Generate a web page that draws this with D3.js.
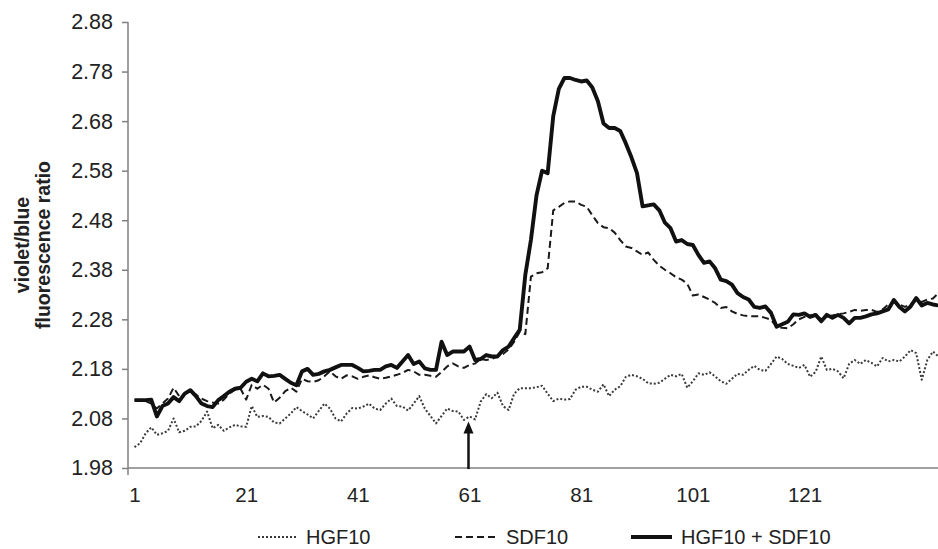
<!DOCTYPE html>
<html><head><meta charset="utf-8">
<script src="https://cdn.jsdelivr.net/npm/d3@7"></script>
<style>
html,body{margin:0;padding:0;background:#fff;}
svg{display:block;font-family:"Liberation Sans",Arial,sans-serif;}
</style></head>
<body>
<svg id="chart" width="938" height="549"></svg>
<script>
// ---- data ----
const hgf10 = [2.022,2.03,2.05,2.062,2.047,2.05,2.055,2.08,2.052,2.055,2.063,2.064,2.075,2.094,2.06,2.067,2.055,2.062,2.067,2.064,
2.063,2.105,2.083,2.085,2.083,2.072,2.07,2.08,2.09,2.103,2.095,2.088,2.08,2.095,2.11,2.1,2.08,2.074,2.09,2.101,
2.1,2.104,2.11,2.1,2.097,2.11,2.12,2.105,2.104,2.096,2.11,2.125,2.10,2.085,2.07,2.085,2.10,2.095,2.094,2.077,
2.084,2.078,2.114,2.129,2.121,2.132,2.105,2.097,2.13,2.141,2.141,2.141,2.143,2.146,2.13,2.115,2.12,2.118,2.119,2.138,
2.144,2.144,2.138,2.134,2.149,2.125,2.138,2.145,2.164,2.168,2.165,2.16,2.151,2.15,2.152,2.16,2.168,2.165,2.17,2.142,
2.155,2.171,2.168,2.173,2.165,2.155,2.15,2.16,2.17,2.168,2.178,2.186,2.178,2.176,2.19,2.205,2.2,2.19,2.186,2.182,
2.188,2.164,2.174,2.205,2.178,2.18,2.175,2.161,2.19,2.198,2.19,2.198,2.192,2.185,2.202,2.195,2.198,2.195,2.205,2.218,
2.212,2.158,2.198,2.215,2.205];
const sdf10 = [2.117,2.117,2.115,2.11,2.1,2.11,2.12,2.142,2.125,2.13,2.135,2.128,2.12,2.115,2.112,2.11,2.118,2.13,2.138,2.14,
2.118,2.148,2.14,2.148,2.14,2.112,2.122,2.135,2.142,2.134,2.16,2.155,2.154,2.157,2.165,2.175,2.165,2.16,2.167,2.165,
2.16,2.164,2.167,2.163,2.16,2.162,2.165,2.168,2.172,2.178,2.175,2.168,2.168,2.166,2.164,2.174,2.185,2.191,2.185,2.182,
2.188,2.191,2.2,2.198,2.2,2.205,2.21,2.219,2.235,2.255,2.25,2.366,2.373,2.375,2.383,2.50,2.507,2.515,2.518,2.518,
2.511,2.507,2.49,2.474,2.466,2.464,2.455,2.44,2.427,2.424,2.417,2.41,2.415,2.40,2.388,2.38,2.373,2.365,2.36,2.352,
2.328,2.33,2.325,2.32,2.313,2.303,2.305,2.296,2.291,2.288,2.286,2.286,2.286,2.283,2.279,2.265,2.263,2.262,2.27,2.28,
2.285,2.288,2.29,2.28,2.285,2.288,2.29,2.292,2.295,2.299,2.297,2.299,2.299,2.295,2.3,2.31,2.315,2.31,2.305,2.31,
2.318,2.315,2.32,2.322,2.333];
const hgfSdf = [2.117,2.117,2.117,2.118,2.084,2.105,2.11,2.123,2.115,2.13,2.137,2.125,2.11,2.105,2.103,2.117,2.125,2.134,2.14,2.142,
2.154,2.16,2.155,2.171,2.165,2.166,2.168,2.16,2.152,2.147,2.175,2.18,2.168,2.17,2.175,2.178,2.183,2.188,2.188,2.188,
2.182,2.175,2.176,2.178,2.178,2.185,2.188,2.182,2.195,2.208,2.19,2.195,2.181,2.178,2.178,2.235,2.208,2.215,2.215,2.215,
2.225,2.198,2.2,2.208,2.205,2.205,2.218,2.225,2.242,2.259,2.37,2.44,2.53,2.58,2.575,2.69,2.745,2.767,2.767,2.763,
2.76,2.762,2.748,2.72,2.675,2.666,2.666,2.66,2.635,2.607,2.575,2.508,2.51,2.512,2.5,2.475,2.464,2.437,2.44,2.432,
2.43,2.41,2.394,2.397,2.383,2.36,2.357,2.35,2.333,2.325,2.32,2.305,2.303,2.306,2.293,2.265,2.27,2.275,2.29,2.289,
2.292,2.285,2.289,2.276,2.289,2.283,2.289,2.283,2.272,2.283,2.283,2.286,2.29,2.292,2.296,2.3,2.319,2.305,2.296,2.306,
2.323,2.308,2.313,2.31,2.308];
const xTickLabels = [1,21,41,61,81,101,121];
const yTickLabels = [1.98,2.08,2.18,2.28,2.38,2.48,2.58,2.68,2.78,2.88];
const seriesNames = ["HGF10","SDF10","HGF10 + SDF10"];
const yTitle = ["violet/blue","fluorescence ratio"];
const arrowAt = 61;

// ---- layout ----
const svg = d3.select("#chart");
const plotLeft = 128, plotRight = 938, plotTop = 22, plotBottom = 468;
const x = d3.scaleLinear().domain([1,121]).range([134.5,804.5]);
const y = d3.scaleLinear().domain([1.98,2.88]).range([plotBottom,plotTop]);

const defs = svg.append("defs");
defs.append("clipPath").attr("id","clip").append("rect")
  .attr("x",plotLeft).attr("y",0).attr("width",plotRight-plotLeft).attr("height",plotBottom);

// y axis
const yAxis = svg.append("g").attr("transform",`translate(${plotLeft},0)`)
  .call(d3.axisLeft(y).tickValues(yTickLabels).tickFormat(d3.format(".2f")).tickSize(6).tickPadding(9));
yAxis.select(".domain").attr("stroke","#808080").attr("stroke-width",1.5).attr("d",`M0,${plotTop}V${plotBottom+7}`);
yAxis.selectAll(".tick line").attr("stroke","#808080").attr("stroke-width",1.5);
yAxis.selectAll(".tick text").attr("font-size",21.5).attr("fill","#222").attr("font-family","Liberation Sans, Arial, sans-serif");

// x axis
const xAxis = svg.append("g").attr("transform",`translate(0,${plotBottom})`)
  .call(d3.axisBottom(x).tickValues(xTickLabels).tickFormat(d3.format("d")).tickSize(0).tickPadding(19));
xAxis.select(".domain").attr("stroke","#808080").attr("stroke-width",1.5).attr("d",`M${plotLeft},0H${plotRight}`);
xAxis.selectAll(".tick text").attr("font-size",20.5).attr("fill","#222").attr("font-family","Liberation Sans, Arial, sans-serif");

// y title
const yt = svg.append("text").attr("transform","translate(29,245) rotate(-90)")
  .attr("text-anchor","middle").attr("font-weight","bold").attr("font-size",19.5).attr("fill","#222");
yt.append("tspan").attr("x",0).attr("dy",0).text(yTitle[0]);
yt.append("tspan").attr("x",0).attr("dy",21).text(yTitle[1]);

// lines
const line = d3.line().x((d,i)=>x(i+1)).y(d=>y(d));
const g = svg.append("g").attr("clip-path","url(#clip)");
const styles = [
  {data:hgf10, w:2, dash:"2,2", color:"#3a3a3a"},
  {data:sdf10, w:2, dash:"7,4", color:"#1a1a1a"},
  {data:hgfSdf, w:3.9, dash:null, color:"#111"}
];
styles.forEach(s=>{
  g.append("path").datum(s.data).attr("d",line).attr("fill","none")
   .attr("stroke",s.color).attr("stroke-width",s.w).attr("stroke-linejoin","round")
   .attr("stroke-dasharray",s.dash);
});

// arrow
const ax = x(arrowAt) - 1;
svg.append("line").attr("x1",ax).attr("x2",ax).attr("y1",y(2.0)+11).attr("y2",y(2.07)+2)
  .attr("stroke","#111").attr("stroke-width",2.5);
svg.append("path").attr("d",`M${ax},${y(2.074)}L${ax-5},${y(2.074)+12}L${ax+5},${y(2.074)+12}Z`).attr("fill","#111");

// legend
const legY = 537;
const legItems = [
  {x0:258,x1:297,tx:306},
  {x0:455,x1:497,tx:506},
  {x0:631,x1:672,tx:681}
];
legItems.forEach((l,i)=>{
  const s = styles[i];
  svg.append("line").attr("x1",l.x0).attr("x2",l.x1).attr("y1",legY).attr("y2",legY)
    .attr("stroke",s.color).attr("stroke-width",s.w).attr("stroke-dasharray",s.dash);
  svg.append("text").attr("x",l.tx).attr("y",legY+7).attr("font-size",20).attr("fill","#222").text(seriesNames[i]);
});
</script>
</body></html>
